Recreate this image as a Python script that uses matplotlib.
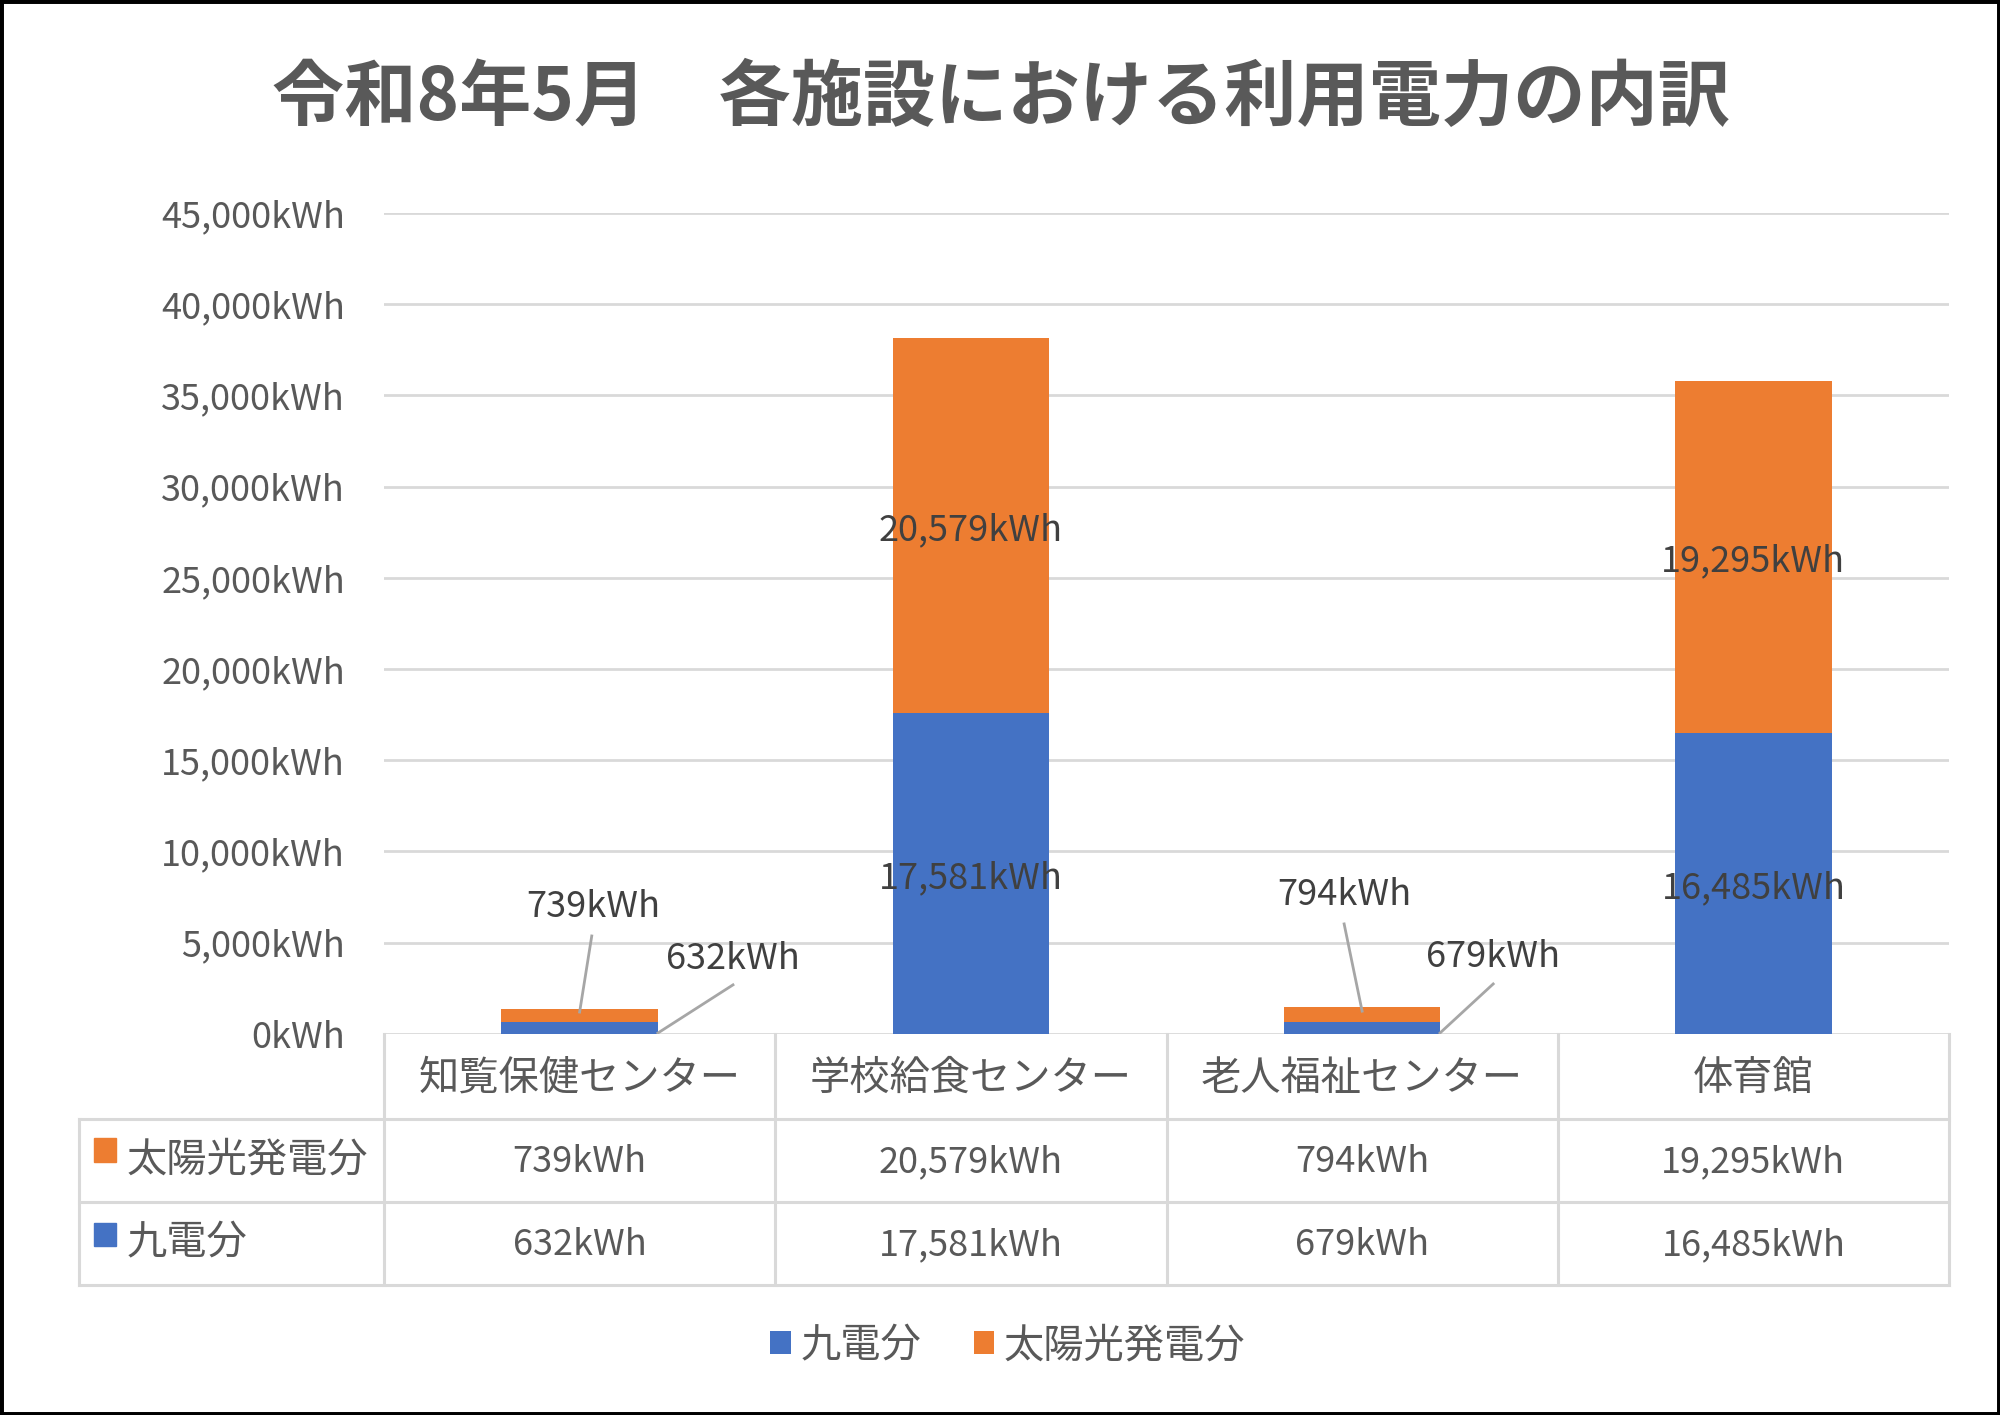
import matplotlib
matplotlib.use('Agg')
import matplotlib.pyplot as plt
from matplotlib.patches import Rectangle
import numpy as np

plt.rcParams['font.family'] = ['Noto Sans CJK JP', 'DejaVu Sans']

# data
title = '令和8年5月　各施設における利用電力の内訳'
facilities = ['知覧保健センター', '学校給食センター', '老人福祉センター', '体育館']
series_names = ['九電分', '太陽光発電分']
kyuden = [632, 17581, 679, 16485]
solar = [739, 20579, 794, 19295]

BLUE = '#4472C4'
ORANGE = '#ED7D31'
GRID = '#D9D9D9'
TXT = '#595959'
LBL = '#404040'
NUM = 26
CJK = 29


def fmt(v):
    return f'{int(v):,}kWh'


fig = plt.figure(figsize=(20, 14.15), dpi=100)
ax = fig.add_axes([0.192, 0.2693, 0.7825, 0.5802])

x = np.arange(len(facilities))
b1 = ax.bar(x, kyuden, 0.4, color=BLUE, label=series_names[0], zorder=2)
b2 = ax.bar(x, solar, 0.4, bottom=kyuden, color=ORANGE, label=series_names[1], zorder=2)

ax.set_xlim(-0.5, 3.5)
ax.set_ylim(0, 45000)
ax.set_yticks(np.arange(0, 45001, 5000))
ax.yaxis.set_major_formatter(lambda v, p: fmt(v))
ax.tick_params(axis='y', length=0, pad=28, labelsize=NUM, labelcolor=TXT)
ax.set_xticks([])
ax.grid(axis='y', color=GRID, lw=2, zorder=0)
for s in ax.spines.values():
    s.set_visible(False)

# data labels (nudged a bit down, like the original)
dy = -250
for i in x:
    k, s = kyuden[i], solar[i]
    if k + s > 5000:
        ax.text(i, k / 2 + dy, fmt(k), ha='center', va='center', fontsize=NUM, color=LBL, zorder=3)
        ax.text(i, k + s / 2 + dy, fmt(s), ha='center', va='center', fontsize=NUM, color=LBL, zorder=3)

# small bars: labels pulled out with leader lines
small = {0: ((0.034, 6950, 0.031, 5370, 0.0, 1200), (0.392, 4120, 0.392, 2690, 0.2, 50)),
         2: ((-0.046, 7600, -0.046, 6030, 0.0, 1250), (0.335, 4230, 0.335, 2740, 0.199, 50))}
for i, (o, b) in small.items():
    for (tx, ty, lx0, ly0, lx1, ly1), v in ((o, solar[i]), (b, kyuden[i])):
        ax.text(i + tx, ty, fmt(v), ha='center', va='center', fontsize=NUM, color=LBL)
        ax.plot([i + lx0, i + lx1], [ly0, ly1], color='#A6A6A6', lw=2, zorder=3)

# data table under the axis
tr = ax.get_xaxis_transform()
left = -1.28
rows = [-0.1035, -0.2046, -0.3057]
for y in rows:
    ax.plot([left, 3.5], [y, y], transform=tr, color=GRID, lw=2.2, clip_on=False)
for xv in [-0.5, 0.5, 1.5, 2.5, 3.5]:
    ax.plot([xv, xv], [0, rows[-1]], transform=tr, color=GRID, lw=2.2, clip_on=False)
ax.plot([left, left], [rows[0], rows[-1]], transform=tr, color=GRID, lw=2.2, clip_on=False)

for i in x:
    ax.text(i, -0.054, facilities[i], transform=tr, ha='center', va='center',
            fontsize=CJK, color=TXT)
    ax.text(i, -0.156, fmt(solar[i]), transform=tr, ha='center', va='center',
            fontsize=NUM, color=TXT)
    ax.text(i, -0.257, fmt(kyuden[i]), transform=tr, ha='center', va='center',
            fontsize=NUM, color=TXT)

for name, col, yc, yt in [(series_names[1], ORANGE, -0.1413, -0.154),
                          (series_names[0], BLUE, -0.2442, -0.255)]:
    ax.add_patch(Rectangle((-1.241, yc - 0.0145), 0.056, 0.029, transform=tr,
                           color=col, clip_on=False))
    ax.text(-1.157, yt, name, transform=tr, ha='left', va='center', fontsize=CJK, color=TXT)

# legend
fig.legend(handles=[b1, b2], ncol=2, loc='center', bbox_to_anchor=(0.504, 0.049),
           frameon=False, fontsize=CJK, handlelength=0.5, handleheight=0.5,
           handletextpad=0.25, columnspacing=1.3, labelcolor=TXT)

fig.text(0.5006, 0.930, title, ha='center', va='center', fontsize=52,
         fontweight='bold', color=TXT)

fig.add_artist(Rectangle((0, 0), 1, 1, transform=fig.transFigure, fill=False,
                         edgecolor='black', lw=5))

fig.savefig('out.png', dpi=100)
